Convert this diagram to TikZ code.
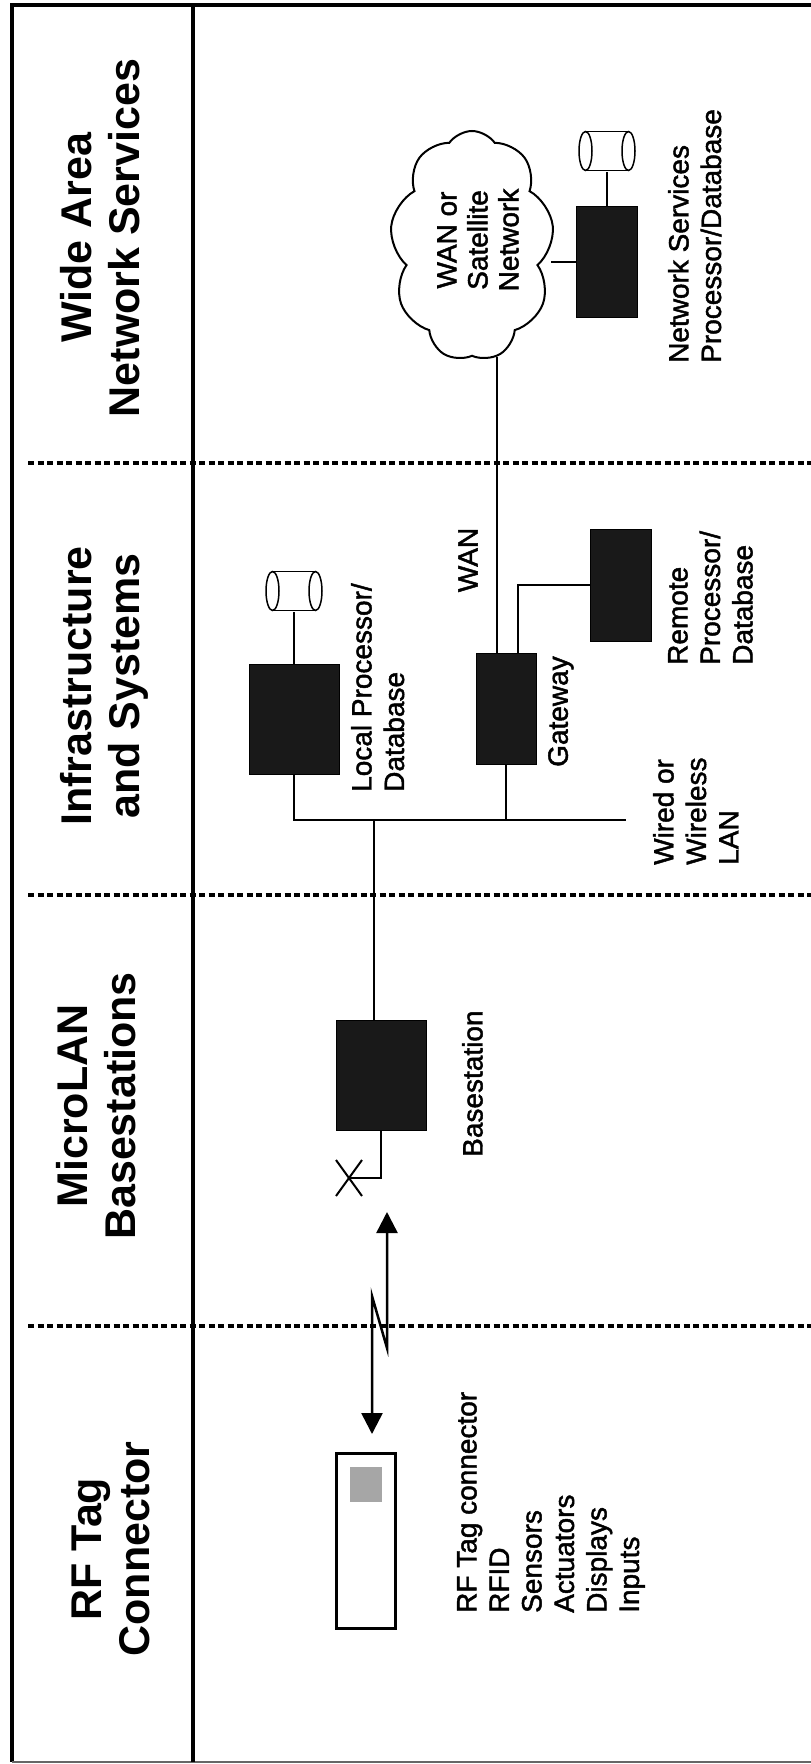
\documentclass[tikz,border=0pt]{standalone}
\usepackage{fontspec}
\setmainfont{Liberation Sans}
\newfontfamily\notefont{Liberation Sans}[FakeBold=1.6]
\usetikzlibrary{positioning, shapes.symbols, shapes.misc, arrows.meta}

\begin{document}
\begin{tikzpicture}[
    x=1pt, y=-1pt,
    header/.style={rotate=90, align=center, anchor=north, inner sep=0pt, font=\bfseries\fontsize{43}{48}\selectfont},
    notes/.style={rotate=90, align=left, anchor=north west, inner sep=0pt, font=\notefont\fontsize{28}{32.5}\selectfont},
    unit/.style={rectangle, draw=black, fill=black!90, line width=1pt, inner sep=0pt},
    drum/.style={minimum width=58pt, minimum height=42pt, inner sep=0pt, path picture={
        \draw[line width=1.5pt] ([xshift=7.5pt]path picture bounding box.west) ellipse [x radius=6.5pt, y radius=19.5pt];
        \draw[line width=1.5pt] ([xshift=-7.5pt]path picture bounding box.east) ellipse [x radius=6.5pt, y radius=19.5pt];
        \draw[line width=1.5pt] ([xshift=7.5pt,yshift=19.5pt]path picture bounding box.west) -- ([xshift=-7.5pt,yshift=19.5pt]path picture bounding box.east);
        \draw[line width=1.5pt] ([xshift=7.5pt,yshift=-19.5pt]path picture bounding box.west) -- ([xshift=-7.5pt,yshift=-19.5pt]path picture bounding box.east);
    }},
    wire/.style={line width=2pt},
    rflink/.style={line width=2.5pt, {Triangle[length=21pt, width=21pt]}-{Triangle[length=21pt, width=21pt]}},
    lane/.style={line width=4pt, dash pattern=on 6pt off 3.5pt},
    frame/.style={line width=3.5pt}
]
\useasboundingbox (0,0) rectangle (811,1764);

% Frame and lanes
\draw[frame] (811,5) -- (12,5) -- (12,1762);
\draw[line width=2pt, black!60] (12,1762) -- (811,1762);
\draw[frame] (193,5) -- (193,1762);
\draw[lane] (28,463) -- (811,463);
\draw[lane] (28,895) -- (811,895);
\draw[lane] (28,1326) -- (811,1326);

% Lane headers
\node[header] (wanhead) at (60,238) {Wide Area\\Network Services};
\node[header] (infrahead) at (60,686) {Infrastructure\\and Systems};
\node[header] (microhead) at (56,1106) {MicroLAN\\Basestations};
\node[header] (taghead) at (72,1549) {RF Tag\\Connector};

% Wide area network services
\node[cloud, draw, line width=2pt, cloud puffs=9, cloud puff arc=110, cloud ignores aspect, minimum width=164pt, minimum height=230pt, inner sep=0pt] (wancloud) at (472,246) {};
\node[rotate=90, align=center, inner sep=0pt, font=\notefont\fontsize{28}{31}\selectfont] (cloudtext) at (478,240) {WAN or\\Satellite\\Network};
\node[drum] (netdb) at (607,151) {};
\node[unit, minimum width=61pt, minimum height=111pt] (netbox) at (607,262) {};
\node[notes] (nettext) at (668,363) {Network Services\\Processor/Database};

% Infrastructure and systems
\node[drum] (localdb) at (294,591) {};
\node[unit, minimum width=90pt, minimum height=110pt] (localbox) at (294,719) {};
\node[notes] (localtext) at (351,792) {Local Processor/\\Database};
\node[unit, minimum width=60pt, minimum height=111pt] (gateway) at (506,709) {};
\node[notes] (gatetext) at (548,767) {Gateway};
\node[unit, minimum width=61pt, minimum height=112pt] (remote) at (621,585) {};
\node[notes] (remotetext) at (668,665) {Remote\\Processor/\\Database};
\node[rotate=90, inner sep=0pt, font=\notefont\fontsize{28}{32.5}\selectfont] (wanlabel) at (468,560) {WAN};
\node[notes] (lantext) at (653,865) {Wired or\\Wireless\\LAN};
\coordinate (lanend) at (626,820);

% MicroLAN basestations
\node[unit, minimum width=90pt, minimum height=110pt] (basestation) at (381,1075) {};
\node[notes] (basetext) at (462,1157) {Basestation};
\node[cross out, draw, line width=2pt, minimum width=24pt, minimum height=34pt, inner sep=0pt] (antenna) at (349,1178) {};
\coordinate (rfup) at (387,1212);

% RF tag connector
\node[draw, line width=2.5pt, fill=white, minimum width=59pt, minimum height=175pt, inner sep=0pt] (tag) at (366,1541) {};
\node[fill=black!35, minimum width=32pt, minimum height=35pt, inner sep=0pt] (tagchip) at (366,1484) {};
\node[notes] (tagtext) at (457,1613) {RF Tag connector\\RFID\\Sensors\\Actuators\\Displays\\Inputs};
\coordinate (rfdown) at (372,1434);

% Links
\draw[wire] (netdb) -- (netbox);
\draw[wire] (netbox.west) -- (netbox.west -| wancloud.east);
\draw[wire] ([xshift=-9pt]gateway.north) -- ([xshift=-9pt]gateway.north |- wancloud.south);
\draw[wire] ([xshift=12pt]gateway.north) |- (remote.west);
\draw[wire] (localdb) -- (localbox);
\draw[wire] (localbox.south) |- (lanend);
\draw[wire] (gateway.south) -- (gateway.south |- lanend);
\draw[wire] ([xshift=-7pt]basestation.north) -- ([xshift=-7pt]basestation.north |- lanend);
\draw[wire] (basestation.south) |- (antenna.center);
\draw[rflink] (rfup) -- ++(0,136) -- ++(-15,-52) -- (rfdown);

\end{tikzpicture}
\end{document}
